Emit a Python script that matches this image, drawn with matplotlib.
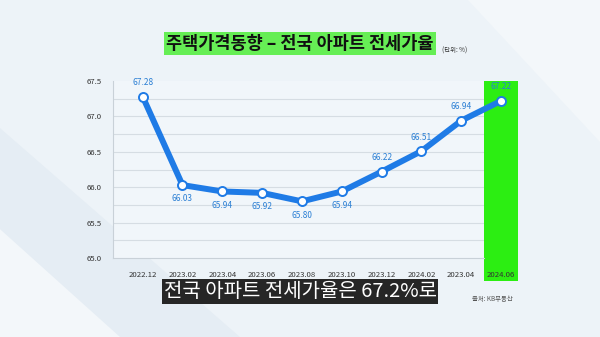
import matplotlib
matplotlib.use("Agg")
import matplotlib.pyplot as plt
from matplotlib.patches import Rectangle, Polygon

plt.rcParams['font.family'] = ['Noto Sans CJK KR', 'DejaVu Sans']

# 전국 아파트 전세가율 (%)
periods = ["2022.12", "2023.02", "2023.04", "2023.06", "2023.08",
           "2023.10", "2023.12", "2024.02", "2023.04", "2024.06"]
ratios = [67.28, 66.03, 65.94, 65.92, 65.80, 65.94, 66.22, 66.51, 66.94, 67.22]
label_below = [False, True, True, True, True, True, False, False, False, False]
y_ticks = [65.0, 65.5, 66.0, 66.5, 67.0, 67.5]

title = "주택가격동향 – 전국 아파트 전세가율"
unit = "(단위: %)"
caption = "전국 아파트 전세가율은 67.2%로"
source = "출처: KB부동산"

BG = "#edf3f8"
LINE = "#1f7be6"
LABEL = "#2b7fd4"
HIGHLIGHT = "#2cee12"

fig = plt.figure(figsize=(6, 3.37), dpi=100, facecolor=BG)

# soft diagonal background shapes
bg = fig.add_axes([0, 0, 1, 1], zorder=-5)
bg.set_xlim(0, 1); bg.set_ylim(0, 1); bg.axis("off")
bg.add_patch(Polygon([[0, 0.62], [0.40, 0], [0, 0]], closed=True,
                     facecolor="#e5edf4", edgecolor="none"))
bg.add_patch(Polygon([[0, 0.32], [0.20, 0], [0, 0]], closed=True,
                     facecolor="#f3f7fa", edgecolor="none"))
bg.add_patch(Polygon([[0.78, 1], [1, 1], [1, 0.58]], closed=True,
                     facecolor="#f3f7fa", edgecolor="none"))

ax = fig.add_axes([0.188, 0.2344, 0.675, 0.5252])
ax.set_facecolor("#f1f6fa")
x = list(range(len(periods)))

band_lo, band_hi = 8.57, 9.42
ax.set_xlim(-0.75, band_hi)
ax.set_ylim(65.0, 67.5)

# highlight for the latest period, extending over its tick label
ax.add_patch(Rectangle((band_lo, 64.68), band_hi - band_lo, 2.82, facecolor=HIGHLIGHT,
                       edgecolor="none", zorder=1, clip_on=False))

# grid every 0.25
for g in [65.25 + 0.25 * i for i in range(9)]:
    ax.axhline(g, color="#d6dde3", lw=0.8, zorder=0.5)

ax.plot(x, ratios, color=LINE, lw=4.3, zorder=3, solid_capstyle="round")
ax.plot(x, ratios, "o", ms=6.5, mfc="white", mec=LINE, mew=1.4, zorder=4)

for xi, v, below in zip(x, ratios, label_below):
    off = -10 if below else 10
    ax.annotate(f"{v:.2f}", (xi, v), xytext=(0, off), textcoords="offset points",
                ha="center", va="center", fontsize=6, color=LABEL, zorder=5)

ax.set_xticks(x)
ax.set_xticklabels(periods, fontsize=5.6, color="#333333")
ax.set_yticks(y_ticks)
ax.set_yticklabels([f"{t:.1f}" for t in y_ticks], fontsize=5.6, color="#333333")
ax.tick_params(length=0, pad=9)
ax.tick_params(axis="y", pad=8)
for s in ["top", "right"]:
    ax.spines[s].set_visible(False)
ax.spines["left"].set_color("#c9d1d8")
ax.spines["bottom"].set_color("#c9d1d8")
ax.spines["bottom"].set_bounds(-0.75, band_lo)

# title with green highlight
fig.text(0.50, 0.870, title, ha="center", va="center", fontsize=12.6,
         fontweight="bold", color="#111111",
         bbox=dict(boxstyle="square,pad=0.14", facecolor="#66ee55", edgecolor="none"))
fig.text(0.737, 0.851, unit, ha="left", va="center", fontsize=4.6, color="#333333")

# caption bar
fig.text(0.50, 0.135, caption, ha="center", va="center", fontsize=14.4,
         fontweight="light", color="white",
         bbox=dict(boxstyle="square,pad=0.08", facecolor="#262626", edgecolor="none"))

fig.text(0.855, 0.113, source, ha="right", va="center", fontsize=4.6, color="#555555")

fig.savefig("out.png", dpi=100, facecolor=BG)
